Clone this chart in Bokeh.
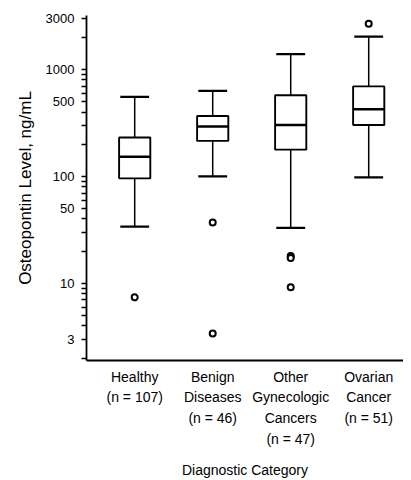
from bokeh.plotting import figure
from bokeh.models import Range1d, FixedTicker, PrintfTickFormatter, ColumnDataSource
from bokeh.transform import dodge
from bokeh.embed import file_html
from bokeh.resources import INLINE

# ---- data ----
categories = ["Healthy", "Benign Diseases", "Other Gynecologic Cancers", "Ovarian Cancer"]
tick_labels = ["Healthy\n(n = 107)", "Benign\nDiseases\n(n = 46)",
               "Other\nGynecologic\nCancers\n(n = 47)", "Ovarian\nCancer\n(n = 51)"]
lower_whisker = [34, 100, 33, 98]
q1 = [96, 215, 178, 303]
median = [153, 293, 303, 425]
q3 = [231, 367, 574, 695]
upper_whisker = [554, 630, 1390, 2030]
outlier_category = [0, 1, 1, 2, 2, 2, 3]
outlier_value = [7.4, 37, 3.4, 18, 17.3, 9.2, 2680]
y_ticks = [3, 10, 50, 100, 500, 1000, 3000]
y_minor = [2, 4, 5, 6, 7, 8, 9, 20, 30, 40, 60, 70, 80, 90,
           200, 300, 400, 600, 700, 800, 900, 2000]

FONT = "Liberation Sans"
pos = [i + 1 for i in range(len(categories))]

box_src = ColumnDataSource(dict(x=pos, lw=lower_whisker, q1=q1, med=median, q3=q3, uw=upper_whisker))
out_src = ColumnDataSource(dict(x=[c + 1 for c in outlier_category], y=outlier_value))

p = figure(width=403, height=480, output_backend="svg", toolbar_location=None,
           y_axis_type="log", x_range=Range1d(0.382, 4.446), y_range=Range1d(1.9, 3200),
           min_border_top=15, min_border_right=0, min_border_left=86, min_border_bottom=117)
p.outline_line_color = None
p.grid.visible = False
p.background_fill_color = "white"
p.border_fill_color = "white"

BW = 0.40
CW = 0.37
# whiskers
p.segment(x0="x", y0="q3", x1="x", y1="uw", source=box_src, line_color="black", line_width=1.5)
p.segment(x0="x", y0="lw", x1="x", y1="q1", source=box_src, line_color="black", line_width=1.5)
# caps
p.segment(x0=dodge("x", -CW / 2), y0="uw", x1=dodge("x", CW / 2), y1="uw", source=box_src,
          line_color="black", line_width=2.2)
p.segment(x0=dodge("x", -CW / 2), y0="lw", x1=dodge("x", CW / 2), y1="lw", source=box_src,
          line_color="black", line_width=2.2)
# boxes
p.vbar(x="x", bottom="q1", top="q3", width=BW, source=box_src, fill_color="white",
       line_color="black", line_width=1.9)
p.segment(x0=dodge("x", -BW / 2), y0="med", x1=dodge("x", BW / 2), y1="med", source=box_src,
          line_color="black", line_width=2.6)
# outliers
p.scatter(x="x", y="y", source=out_src, size=6, marker="circle", fill_color="white",
          line_color="black", line_width=2)

# y axis: all tick positions from the lists, labels only on the major values
all_ticks = sorted(set(y_ticks + y_minor))
ya = p.yaxis[0]
ya.ticker = FixedTicker(ticks=all_ticks)
ya.formatter = PrintfTickFormatter(format="%d")
ya.major_label_overrides = {t: "" for t in all_ticks if t not in y_ticks}
ya.axis_label = "Osteopontin Level, ng/mL"
ya.axis_label_text_font = FONT
ya.axis_label_text_font_style = "normal"
ya.axis_label_text_font_size = "17px"
ya.axis_label_text_color = "black"
ya.axis_label_standoff = 8
ya.major_label_text_font = FONT
ya.major_label_text_font_size = "13px"
ya.major_label_text_color = "black"
ya.major_label_standoff = 7
ya.major_tick_out = 5
ya.major_tick_in = 0
ya.minor_tick_out = 0
ya.minor_tick_in = 0
ya.axis_line_width = 1.8
ya.major_tick_line_width = 1.3
ya.axis_line_color = "black"

# x axis
xa = p.xaxis[0]
xa.ticker = FixedTicker(ticks=pos)
xa.major_label_overrides = {k: lab for k, lab in zip(pos, tick_labels)}
xa.major_tick_out = 0
xa.major_tick_in = 0
xa.minor_tick_out = 0
xa.minor_tick_in = 0
xa.major_label_standoff = 8
xa.major_label_text_font = FONT
xa.major_label_text_font_size = "14px"
xa.major_label_text_line_height = 1.3
xa.major_label_text_color = "black"
xa.axis_label = "Diagnostic Category"
xa.axis_label_text_font = FONT
xa.axis_label_text_font_style = "normal"
xa.axis_label_text_font_size = "14px"
xa.axis_label_text_color = "black"
xa.axis_label_standoff = 12
xa.axis_line_width = 2
xa.axis_line_color = "black"

open("out.html", "w").write(file_html(p, INLINE))
